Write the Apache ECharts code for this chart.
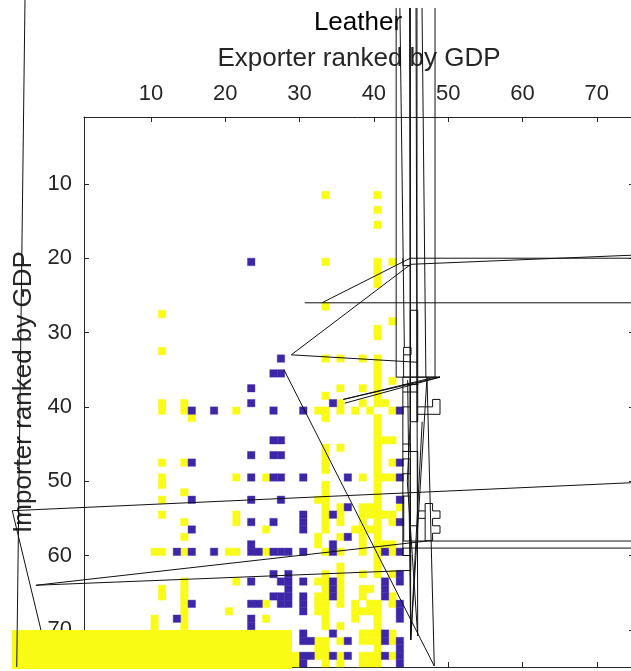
<!DOCTYPE html>
<html><head><meta charset="utf-8">
<style>html,body{margin:0;padding:0;background:#fff;overflow:hidden}#c{width:631px;height:671px}</style>
<script src="https://cdn.jsdelivr.net/npm/echarts@6/dist/echarts.min.js"></script>
</head><body><div id="c"></div>
<script>
const xTicks=[10,20,30,40,50,60,70];
const yTicks=[10,20,30,40,50,60,70];
// each row: [importer rank, exporter ranks...]
const yellowRows=[[11,33,40],[13,40],[15,40],[20,33,40,42],[21,40],[22,40],[23,40],[26,33],[27,11],[28,42],[29,40],[30,40],[32,11],[33,33,35,38,40],[34,40],[35,40],[36,40,42],[37,35,38,40],[38,33,40],[39,11,14,35,38,40,41],[40,11,14,21,32,33,35,37,39,42],[41,15,33,40],[42,40],[43,40],[44,40,41,42],[45,33,35,40],[46,33,40],[47,11,14,33,40,42],[48,33,40],[49,11,21,25,38,40,41,42],[50,11,33,40],[51,14,33,40],[52,11,32,33,40],[53,33,35,38,39,40,43],[54,11,21,33,35,38,39,40,41,42],[55,14,21,33,35,38,40,42],[56,25,33,37,38,39,40],[57,14,32,35,38,40],[58,32,38,40,41,42],[59,10,11,14,20,21,25,33,35,38,40,42],[60,40],[61,35,40],[62,33,35,38,40,42],[63,14,21,32,33,35],[64,11,14,33,35,38,39],[65,11,14,32,33,35,38,42],[66,14,25,32,33,35,37,39,40,42],[67,14,20,32,33,37,38,39,40],[68,10,14,25,33,37,40],[69,10,14,33,35,40],[70,38,39,40,42],[71,32,33,35,38,39,40,42],[72,32,33,40],[73,29,32,33,35,38,39,40,42],[74,29,33,35,38,39,40]];
const blueRows=[[20,23],[33,27],[35,26,27],[37,23],[39,23,34],[40,15,18,26,30,43],[44,26,27],[46,23,26,27],[47,15,43],[49,23,26,27,30,36,43],[52,15,23,27,43],[53,36],[54,30,34],[55,23,26,30,43],[56,15,30],[57,36],[58,23,34],[59,13,15,18,23,24,26,27,28,30,34,41,43],[62,26,28,43],[63,23,27,28,30,34,41,43],[64,28,34,41],[65,26,27,28,30,34,41],[66,15,23,24,27,28,30,43],[67,30,43],[68,13,23,43],[69,23],[70,30,34,41],[71,30,31,36,41,43],[72,43],[73,30,31,34,36,41,43],[74,30,43]];
// stray filled block: [x0,x1,y0,y1]
const yellowBlock=[[-8.69,28.99,70.03,75.27]];
const traces=[
 [[-6.94,-14.74],[-8.05,75]],
 [[77,50.1],[-8.65,53.97],[-4.79,70.03]],
 [[77,58.05],[43.9,58.05]],
 [[47.15,58.05],[-5.46,64],[44.96,62],[44.96,60],[43.9,60],[43.9,59],[77,59]],
 [[43.9,59],[43.9,36],[48.9,36],[35.89,39]],
 [[44.02,52],[44.02,58]],
 [[47.9,39],[48.9,39],[48.9,41],[45.9,41]],
 [[45.9,40],[47.9,40],[47.9,39]],
 [[46.9,53],[47.9,53],[47.9,54],[48.9,54],[48.9,55],[47.9,55],[47.9,56],[48.9,56],[48.9,57],[47.9,57],[47.9,58],[46.9,58],[46.9,53]],
 [[45.9,54],[46.9,54]],[[45.9,55],[46.9,55]],
 [[43.9,45],[44.9,45],[44.9,46],[43.9,46]],
 [[43.9,46],[45.9,46],[45.9,58]],
 [[43.9,52],[44.9,52],[44.9,58]],
 [[44.9,56],[45.9,56]],
 [[43.9,49],[44.9,49],[44.9,47],[43.9,47]],
 [[44.9,36],[44.9,42],[45.9,42],[45.9,27],[44.9,27],[44.9,42]],
 [[43.9,38],[45.9,38]],[[43.9,40],[44.9,40]],[[43.9,37],[46,37]],
 [[44,33],[44,32],[45,32],[45,33],[44,33],[44,36]],
 [[43.9,20],[43.9,21],[45,21]],
 [[33,26],[44.9,20],[77,20]],
 [[77,19.5],[44.96,20.82],[28.89,33],[45.9,34]],
 [[30.7,26],[77,26]],
 [[27.9,35],[48.13,74.87],[47.15,36],[44.96,71.37],[44.8,-13.67]],
 [[46.48,-13.67],[47,36]],
 [[48.23,-13.67],[48.23,36],[35.89,39]],
 [[43,-13.67],[43,36],[48.9,36],[36.1,39.5]],
 [[43.5,-13.67],[44.1,32]],
 [[45.67,-13.67],[45.9,70.83],[44.5,50],[44.9,42]],
 [[44.92,-13.67],[44.92,42]],
 [[45.8,-13.67],[45.8,42]],
 [[44.96,71.37],[46.5,42]],
 [[44.55,36.4],[44.96,71.37]]
];
const ink='#262626';
function cells(rows){const out=[];rows.forEach(r=>r.slice(1).forEach(c=>out.push([c,r[0]])));return out;}
function cellSeries(rows,color){return {type:'custom',xAxisIndex:0,yAxisIndex:0,silent:true,animation:false,z:2,
 data:cells(rows),encode:{x:0,y:1},
 renderItem(p,api){const a=api.coord([api.value(0),api.value(1)]),b=api.coord([api.value(0)+1,api.value(1)+1]);
  return {type:'rect',shape:{x:a[0],y:a[1],width:b[0]-a[0],height:b[1]-a[1]},style:{fill:color,stroke:color,lineWidth:0.4}};}};}
const lineSeries={type:'custom',xAxisIndex:0,yAxisIndex:0,silent:true,animation:false,z:20,clip:false,
 data:traces.map((t,i)=>[i]),
 renderItem(p,api){
  return {type:'polyline',shape:{points:traces[p.dataIndex].map(q=>api.coord(q))},
   style:{fill:'none',stroke:'#111',lineWidth:1}};}};
const axisCommon={min:1,max:75,splitLine:{show:false},axisLine:{show:true,onZero:false,lineStyle:{color:ink,width:1}}};
const labelFont={color:ink,fontFamily:'Liberation Sans',fontSize:22};
const chart=echarts.init(document.getElementById('c'),null,{renderer:'canvas',width:631,height:671});
chart.setOption({
 animation:false,backgroundColor:'#fff',
 title:{text:'Leather',left:353,top:5,textAlign:'center',textStyle:{color:'#000',fontFamily:'Liberation Sans',fontSize:26,fontWeight:'normal'}},
 grid:{left:84,top:117,width:550,height:550,containLabel:false,outerBoundsMode:'none'},
 xAxis:[
  {...axisCommon,type:'value',position:'top',name:'Exporter ranked by GDP',nameLocation:'middle',nameGap:45,
   nameTextStyle:{color:ink,fontFamily:'Liberation Sans',fontSize:26},
   axisTick:{show:true,inside:true,length:5,customValues:xTicks,lineStyle:{color:ink}},
   axisLabel:{...labelFont,margin:12,customValues:xTicks}},
  {...axisCommon,type:'value',position:'bottom',
   axisTick:{show:true,inside:true,length:5,customValues:xTicks,lineStyle:{color:ink}},
   axisLabel:{show:false}}
 ],
 yAxis:[
  {...axisCommon,type:'value',inverse:true,position:'left',name:'Importer ranked by GDP',nameLocation:'middle',nameGap:45,
   nameTextStyle:{color:ink,fontFamily:'Liberation Sans',fontSize:26},
   axisTick:{show:true,inside:true,length:5,customValues:yTicks,lineStyle:{color:ink}},
   axisLabel:{...labelFont,margin:12,padding:[5,0,0,0],customValues:yTicks}},
  {...axisCommon,type:'value',inverse:true,position:'right',
   axisTick:{show:true,inside:true,length:5,customValues:yTicks,lineStyle:{color:ink}},
   axisLabel:{show:false}}
 ],
 series:[
  cellSeries(yellowRows,'#f9fb15'),
  cellSeries(blueRows,'#3e26a8'),
  {type:'custom',xAxisIndex:0,yAxisIndex:0,silent:true,animation:false,z:10,clip:false,data:yellowBlock,encode:{x:[0,1],y:[2,3]},
   renderItem(p,api){const a=api.coord([api.value(0),api.value(2)]),b=api.coord([api.value(1),api.value(3)]);
    return {type:'rect',shape:{x:a[0],y:a[1],width:b[0]-a[0],height:b[1]-a[1]},style:{fill:'#f9fb15'}};}},
  lineSeries
 ]
});
</script></body></html>
